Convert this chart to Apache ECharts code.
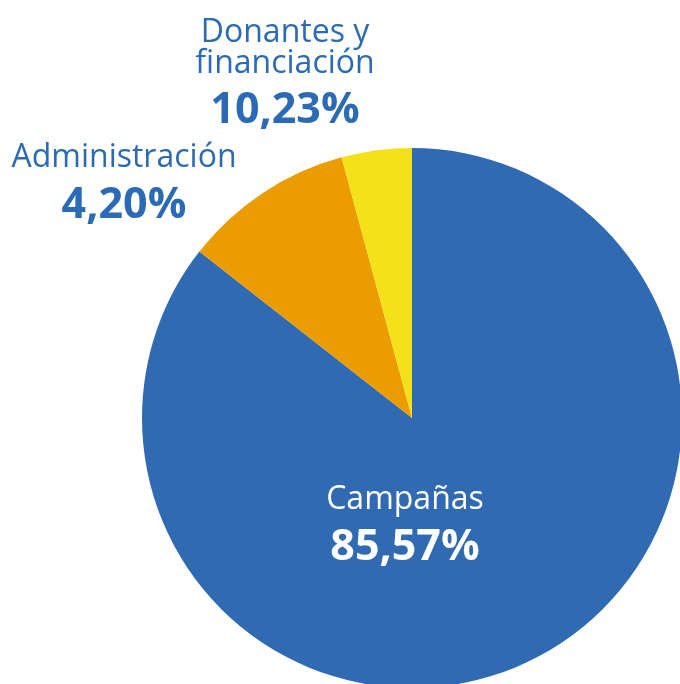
<!DOCTYPE html>
<html>
<head>
<meta charset="utf-8">
<script src="https://cdn.jsdelivr.net/npm/echarts@6/dist/echarts.min.js"></script>
<style>
html,body{margin:0;padding:0;background:#fff;}
#c{width:680px;height:684px;}
</style>
</head>
<body>
<div id="c"></div>
<script>
var categories = ['Campañas', 'Donantes y financiación', 'Administración'];
var values = [85.57, 10.23, 4.20];

var colors = ['#2f6ab3', '#ea9c00', '#f5e11a'];
var labelColors = ['#ffffff', '#2b6bb5', '#2b6bb5'];
var labelPos = [[405, 532], [285, 80], [124, 190]];

var chart = echarts.init(document.getElementById('c'), null, {renderer: 'canvas'});

function fmt(v) { return v.toFixed(2).replace('.', ',') + '%'; }

chart.setOption({
  animation: false,
  series: [{
    type: 'pie',
    center: [412, 418],
    radius: 270,
    startAngle: 90,
    clockwise: true,
    avoidLabelOverlap: false,
    itemStyle: {borderWidth: 0},
    emphasis: {disabled: true},
    labelLine: {show: false},
    label: {
      show: true,
      position: 'inside',
      fontFamily: 'Open Sans',
      formatter: function (p) {
        var lines = p.name.replace(' y ', ' y\n').split('\n');
        return lines.map(function (l) { return '{n|' + l + '}'; }).join('\n') + '\n{v|' + fmt(p.value) + '}';
      }
    },
    labelLayout: function (p) {
      var pos = labelPos[p.dataIndex];
      return {x: pos[0], y: pos[1], align: 'center', verticalAlign: 'middle'};
    },
    data: categories.map(function (c, i) {
      return {
        name: c,
        value: values[i],
        itemStyle: {color: colors[i]},
        label: {
          color: labelColors[i],
          rich: {
            n: {fontFamily: 'Open Sans', fontSize: 32, lineHeight: 31, color: labelColors[i], align: 'center'},
            v: {fontFamily: 'Open Sans', fontSize: 43, fontWeight: 'bold', lineHeight: 64, color: labelColors[i], align: 'center'}
          }
        }
      };
    })
  }]
});
</script>
</body>
</html>
